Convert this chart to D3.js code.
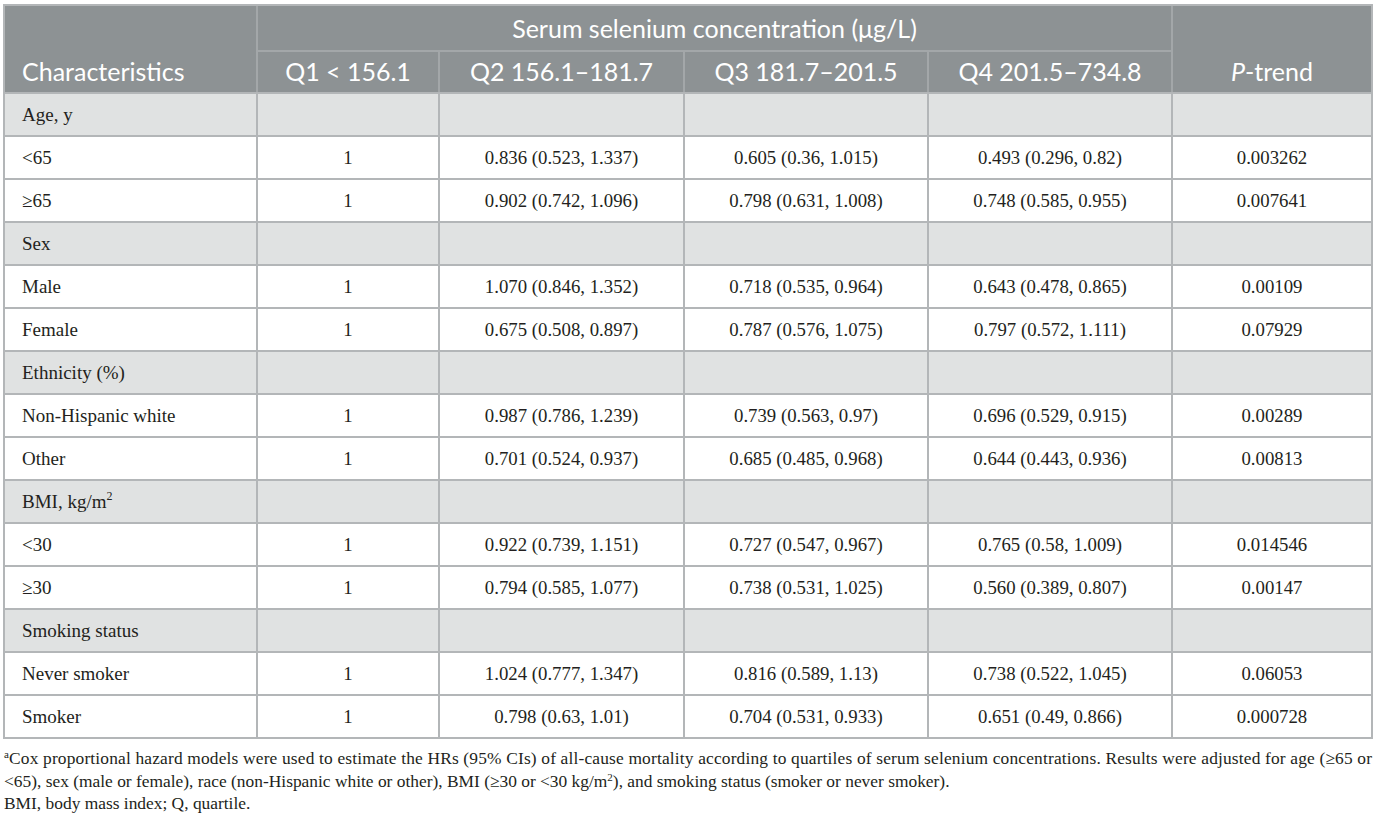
<!DOCTYPE html>
<html>
<head>
<meta charset="utf-8">
<script src="https://cdn.jsdelivr.net/npm/d3@7"></script>
<style>
  body { margin: 0; background: #fff; }
  svg { display: block; }
</style>
</head>
<body>
<svg id="tbl" width="1375" height="820"></svg>
<script>
// table content
var columns = ['Characteristics', 'Q1 < 156.1', 'Q2 156.1\u2013181.7', 'Q3 181.7\u2013201.5', 'Q4 201.5\u2013734.8', 'P-trend'];
var spanTitle = 'Serum selenium concentration (\u03bcg/L)';

var rowLabels = ['Age, y', '<65', '\u226565', 'Sex', 'Male', 'Female', 'Ethnicity (%)',
  'Non-Hispanic white', 'Other', 'BMI, kg/m2', '<30', '\u226530', 'Smoking status', 'Never smoker', 'Smoker'];
var isGroup = [true, false, false, true, false, false, true, false, false, true, false, false, true, false, false];
var q1 = ['', '1', '1', '', '1', '1', '', '1', '1', '', '1', '1', '', '1', '1'];
var q2 = ['', '0.836 (0.523, 1.337)', '0.902 (0.742, 1.096)', '', '1.070 (0.846, 1.352)', '0.675 (0.508, 0.897)', '',
  '0.987 (0.786, 1.239)', '0.701 (0.524, 0.937)', '', '0.922 (0.739, 1.151)', '0.794 (0.585, 1.077)', '',
  '1.024 (0.777, 1.347)', '0.798 (0.63, 1.01)'];
var q3 = ['', '0.605 (0.36, 1.015)', '0.798 (0.631, 1.008)', '', '0.718 (0.535, 0.964)', '0.787 (0.576, 1.075)', '',
  '0.739 (0.563, 0.97)', '0.685 (0.485, 0.968)', '', '0.727 (0.547, 0.967)', '0.738 (0.531, 1.025)', '',
  '0.816 (0.589, 1.13)', '0.704 (0.531, 0.933)'];
var q4 = ['', '0.493 (0.296, 0.82)', '0.748 (0.585, 0.955)', '', '0.643 (0.478, 0.865)', '0.797 (0.572, 1.111)', '',
  '0.696 (0.529, 0.915)', '0.644 (0.443, 0.936)', '', '0.765 (0.58, 1.009)', '0.560 (0.389, 0.807)', '',
  '0.738 (0.522, 1.045)', '0.651 (0.49, 0.866)'];
var ptrend = ['', '0.003262', '0.007641', '', '0.00109', '0.07929', '', '0.00289', '0.00813', '', '0.014546',
  '0.00147', '', '0.06053', '0.000728'];

var footLines = [
  'Cox proportional hazard models were used to estimate the HRs (95% CIs) of all-cause mortality according to quartiles of serum selenium concentrations. Results were adjusted for age (\u226565 or',
  '<65), sex (male or female), race (non-Hispanic white or other), BMI (\u226530 or <30 kg/m2), and smoking status (smoker or never smoker).',
  'BMI, body mass index; Q, quartile.'
];

var colEdges = [4, 257, 439, 684, 928, 1172, 1372];
var headTop = 5, headMid = 51, headBot = 93, rowH = 43;

var headFill = '#8d9294', groupFill = '#e0e2e2', lineCol = '#b3b6b8', headLine = '#a3a7a9';
var sans = 'Lato, "Open Sans", sans-serif';
var serif = '"Liberation Serif", "Times New Roman", serif';

var svg = d3.select('#tbl');

var y = d3.scaleBand()
  .domain(d3.range(rowLabels.length))
  .range([headBot, headBot + rowH * rowLabels.length]);

var colC = function(i) { return (colEdges[i] + colEdges[i + 1]) / 2; };

// header background
svg.append('rect')
  .attr('x', colEdges[0]).attr('y', headTop)
  .attr('width', colEdges[6] - colEdges[0]).attr('height', headBot - headTop)
  .attr('fill', headFill);

// body rows
var rows = svg.append('g').selectAll('g')
    .data(rowLabels)
  .enter().append('g')
    .attr('transform', function(d, i) { return 'translate(0,' + y(i) + ')'; });

rows.append('rect')
  .attr('x', colEdges[0]).attr('width', colEdges[6] - colEdges[0])
  .attr('height', y.bandwidth())
  .attr('fill', function(d, i) { return isGroup[i] ? groupFill : '#fff'; });

// header lines
var hl = svg.append('g').attr('stroke', headLine).attr('stroke-width', 2);
hl.append('line').attr('x1', colEdges[1]).attr('x2', colEdges[5]).attr('y1', headMid).attr('y2', headMid);
[1, 5].forEach(function(i) {
  hl.append('line').attr('x1', colEdges[i]).attr('x2', colEdges[i]).attr('y1', headTop).attr('y2', headBot);
});
[2, 3, 4].forEach(function(i) {
  hl.append('line').attr('x1', colEdges[i]).attr('x2', colEdges[i]).attr('y1', headMid).attr('y2', headBot);
});

// body grid
var gl = svg.append('g').attr('stroke', lineCol).attr('stroke-width', 2);
var yEnd = y.range()[1];
gl.selectAll('line.h')
    .data(d3.range(rowLabels.length + 1))
  .enter().append('line')
    .attr('x1', colEdges[0]).attr('x2', colEdges[6])
    .attr('y1', function(i) { return headBot + i * rowH; })
    .attr('y2', function(i) { return headBot + i * rowH; });
gl.selectAll('line.v')
    .data(colEdges.slice(1, 6))
  .enter().append('line')
    .attr('x1', function(d) { return d; }).attr('x2', function(d) { return d; })
    .attr('y1', headBot).attr('y2', yEnd);

// outer border
svg.append('rect')
  .attr('x', colEdges[0]).attr('y', headTop)
  .attr('width', colEdges[6] - colEdges[0]).attr('height', yEnd - headTop)
  .attr('fill', 'none').attr('stroke', lineCol).attr('stroke-width', 2);

// header text
var ht = svg.append('g').attr('fill', '#fff').attr('font-family', sans).attr('font-size', 25);
ht.append('text')
  .attr('x', (colEdges[1] + colEdges[5]) / 2).attr('y', 38)
  .attr('text-anchor', 'middle').text(spanTitle);
columns.forEach(function(c, i) {
  var t = ht.append('text').attr('y', 81);
  if (i === 0) {
    t.attr('x', 22).text(c);
  } else if (i === 5) {
    t.attr('x', colC(i)).attr('text-anchor', 'middle');
    t.append('tspan').attr('font-style', 'italic').text('P');
    t.append('tspan').text('-trend');
  } else {
    t.attr('x', colC(i)).attr('text-anchor', 'middle').text(c);
  }
});

// body text
var bt = rows.append('g').attr('font-family', serif).attr('fill', '#231f20');
bt.append('text')
  .attr('x', 22).attr('y', rowH / 2 + 6.5)
  .attr('font-size', 19)
  .each(function(d) {
    var t = d3.select(this);
    if (d === 'BMI, kg/m2') {
      t.append('tspan').text('BMI, kg/m');
      t.append('tspan').attr('font-size', 12).attr('dy', -8).text('2');
    } else {
      t.text(d);
    }
  });
[q1, q2, q3, q4, ptrend].forEach(function(vals, k) {
  bt.append('text')
    .attr('x', colC(k + 1)).attr('y', rowH / 2 + 6.5)
    .attr('font-size', 18.8)
    .attr('text-anchor', 'middle')
    .text(function(d, i) { return vals[i]; });
});

// footnotes
var ft = svg.append('g').attr('font-family', serif).attr('font-size', 17.4).attr('fill', '#231f20');
var fy = [764, 787, 809];
footLines.forEach(function(line, i) {
  var t = ft.append('text').attr('x', 4).attr('y', fy[i]);
  if (i === 0) {
    t.append('tspan').attr('font-size', 11).attr('dy', -6).text('a');
    t.append('tspan').attr('dy', 6).text(line);
    t.attr('textLength', colEdges[6] - 4).attr('lengthAdjust', 'spacing');
  } else if (i === 1) {
    var parts = line.split('kg/m2');
    t.append('tspan').text(parts[0] + 'kg/m');
    t.append('tspan').attr('font-size', 11).attr('dy', -6).text('2');
    t.append('tspan').attr('dy', 6).text(parts[1]);
  } else {
    t.text(line);
  }
});
</script>
</body>
</html>
